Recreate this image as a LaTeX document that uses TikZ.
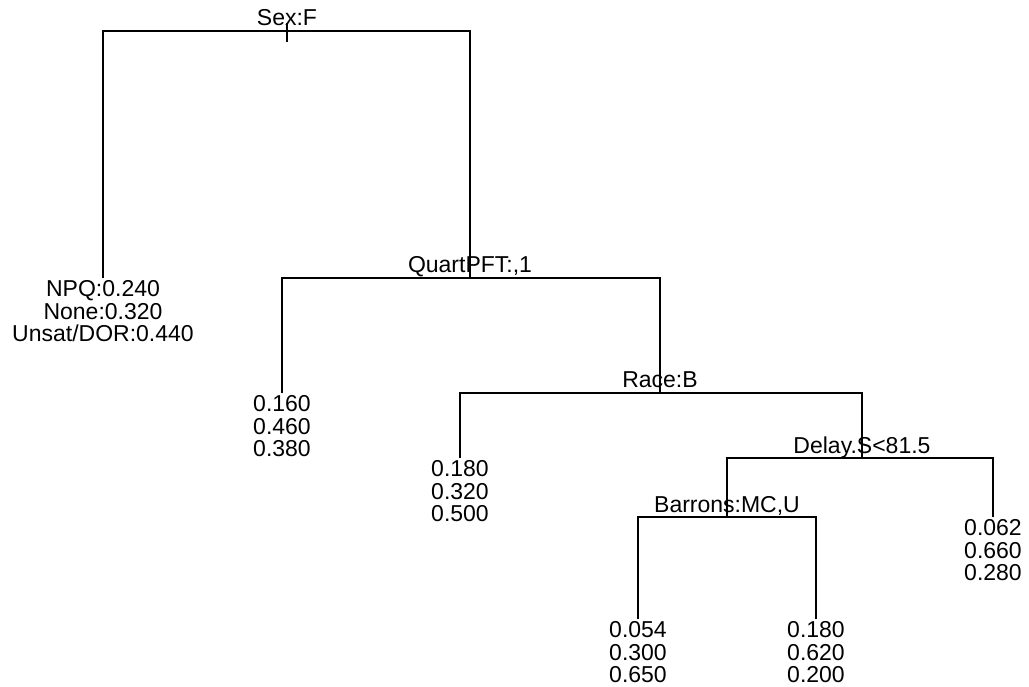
\documentclass[tikz,border=0pt]{standalone}
\usepackage{fontspec}
\setmainfont{Liberation Sans}
\begin{document}
\begin{tikzpicture}[x=1pt,y=-1pt,
  every node/.style={font=\fontsize{23}{22.8}\selectfont},
  edge/.style={draw=black,line width=1.3pt},
  splitlab/.style={anchor=base,inner sep=0pt},
  leaf/.style={anchor=north,align=center,inner xsep=0pt,inner ysep=2pt}]
  \useasboundingbox (0,0) rectangle (1029,687);

  % split points of the tree (centre of each horizontal bar)
  \coordinate (n1) at (287,31);
  \coordinate (n2) at (470,278);
  \coordinate (n3) at (660,393);
  \coordinate (n4) at (862,458);
  \coordinate (n5) at (727,517);

  % short stub at the root
  \coordinate (rootTop) at (287,23);
  \coordinate (rootBot) at (287,42);

  % leaves
  \node[leaf] (lf1) at (103,278) {NPQ:0.240\\None:0.320\\Unsat/DOR:0.440};
  \node[leaf] (lf2) at (282,393) {0.160\\0.460\\0.380};
  \node[leaf] (lf3) at (460,458) {0.180\\0.320\\0.500};
  \node[leaf] (lf4) at (993,517) {0.062\\0.660\\0.280};
  \node[leaf] (lf5) at (638,619) {0.054\\0.300\\0.650};
  \node[leaf] (lf6) at (816,619) {0.180\\0.620\\0.200};

  % branches
  \draw[edge] (rootTop) -- (rootBot);
  \draw[edge] (n1) -| (lf1.north);
  \draw[edge] (n1) -| (n2);
  \draw[edge] (n2) -| (lf2.north);
  \draw[edge] (n2) -| (n3);
  \draw[edge] (n3) -| (lf3.north);
  \draw[edge] (n3) -| (n4);
  \draw[edge] (n4) -| (n5);
  \draw[edge] (n4) -| (lf4.north);
  \draw[edge] (n5) -| (lf5.north);
  \draw[edge] (n5) -| (lf6.north);

  % split labels
  \node[splitlab] (s1) at (287,26) {Sex:F};
  \node[splitlab] (s2) at (470,273) {QuartPFT:,1};
  \node[splitlab] (s3) at (660,388) {Race:B};
  \node[splitlab] (s4) at (862,453) {Delay.S<81.5};
  \node[splitlab] (s5) at (727,512) {Barrons:MC,U};
\end{tikzpicture}
\end{document}
